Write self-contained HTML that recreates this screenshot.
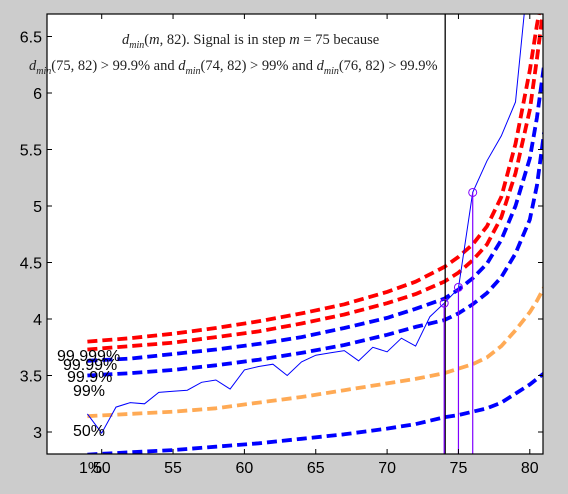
<!DOCTYPE html>
<html><head><meta charset="utf-8"><style>
html,body{margin:0;padding:0;background:#cccccc;}
svg{display:block;}
text{font-family:"Liberation Sans",sans-serif;}
.tt{font-family:"Liberation Serif",serif;font-size:14.5px;fill:#222;}
</style></head><body>
<svg id="chart" width="568" height="494" viewBox="0 0 568 494" xmlns="http://www.w3.org/2000/svg">
<rect x="0" y="0" width="568" height="494" fill="#cccccc"/>
<rect x="47" y="14" width="496" height="440" fill="#ffffff"/>
<defs><clipPath id="clip"><rect x="47" y="14" width="496" height="440"/></clipPath></defs>
<g id="marks" clip-path="url(#clip)"></g>
<g id="axes"></g>
<g>
<text class="tt" x="122" y="44"><tspan font-style="italic">d</tspan><tspan font-style="italic" font-size="10" dy="4">min</tspan><tspan dy="-4">(</tspan><tspan font-style="italic">m</tspan>, 82). Signal is in step <tspan font-style="italic">m</tspan> = 75 because</text>
<text class="tt" x="29" y="70"><tspan font-style="italic">d</tspan><tspan font-style="italic" font-size="10" dy="4">min</tspan><tspan dy="-4">(75, 82) &gt; 99.9% and </tspan><tspan font-style="italic">d</tspan><tspan font-style="italic" font-size="10" dy="4">min</tspan><tspan dy="-4">(74, 82) &gt; 99% and </tspan><tspan font-style="italic">d</tspan><tspan font-style="italic" font-size="10" dy="4">min</tspan><tspan dy="-4">(76, 82) &gt; 99.9%</tspan></text>
</g>
<g font-size="16" fill="#000">
<text x="57" y="361">99.999%</text>
<text x="63" y="370">99.99%</text>
<text x="67" y="382">99.9%</text>
<text x="73" y="396">99%</text>
<text x="73" y="436">50%</text>
<text x="79" y="473">1%</text>
</g>
</svg>
<script>
const mPts=[49,52,55,58,61,64,67,70,72,74,75,76,77,78,79,80,80.5,81];
const red1=[3.80,3.83,3.87,3.92,3.98,4.05,4.13,4.24,4.33,4.46,4.55,4.66,4.82,5.08,5.55,6.2,6.6,6.95];
const red2=[3.73,3.76,3.79,3.84,3.89,3.96,4.04,4.14,4.22,4.33,4.41,4.52,4.66,4.90,5.29,5.85,6.3,6.8];
const blue1=[3.63,3.65,3.69,3.73,3.78,3.84,3.92,4.01,4.09,4.18,4.26,4.36,4.49,4.70,5.00,5.42,5.78,6.25];
const blue2=[3.50,3.52,3.55,3.59,3.64,3.70,3.77,3.86,3.93,3.99,4.05,4.13,4.23,4.37,4.58,4.88,5.18,5.65];
const orange=[3.14,3.16,3.18,3.21,3.26,3.31,3.37,3.43,3.47,3.52,3.56,3.60,3.66,3.76,3.90,4.06,4.16,4.28];
const blue3=[2.80,2.82,2.84,2.87,2.90,2.94,2.98,3.03,3.07,3.13,3.15,3.18,3.21,3.26,3.34,3.42,3.47,3.52];
const sigM=[49,50,51,52,53,54,55,56,57,58,59,60,61,62,63,64,65,66,67,68,69,70,71,72,73,74,75,76,77,78,79,80];
const sigV=[3.16,2.99,3.22,3.26,3.25,3.35,3.36,3.37,3.44,3.46,3.38,3.55,3.58,3.60,3.50,3.62,3.68,3.70,3.72,3.63,3.75,3.71,3.83,3.76,4.02,4.14,4.27,5.12,5.40,5.62,5.92,7.2];
const circM=[74,75,76];
const circV=[4.14,4.28,5.12];
const xTicks=[50,55,60,65,70,75,80];
const yTicks=[3,3.5,4,4.5,5,5.5,6,6.5];

const X=v=>101.7+(v-50)*14.27;
const Y=v=>432-(v-3)*113;
const NS='http://www.w3.org/2000/svg';
const marks=document.getElementById('marks');
const axes=document.getElementById('axes');
function mk(tag,attrs,parent){const e=document.createElementNS(NS,tag);for(const k in attrs)e.setAttribute(k,attrs[k]);parent.appendChild(e);return e;}
function pathOf(ms,vs){return ms.map((m,i)=>(i?'L':'M')+X(m).toFixed(1)+','+Y(vs[i]).toFixed(1)).join(' ');}

function dashed(vs,color,name){
  const p=mk('path',{d:pathOf(mPts,vs),fill:'none',stroke:color,'stroke-width':3.8,'stroke-dasharray':'10,5','stroke-linejoin':'round'},marks);
  
  
}
dashed(blue3,'#0000ff','curve-1pct');
dashed(orange,'#ffaa55','curve-50pct');
dashed(blue2,'#0000ff','curve-99pct');
dashed(blue1,'#0000ff','curve-99-9pct');
dashed(red2,'#ff0000','curve-99-99pct');
dashed(red1,'#ff0000','curve-99-999pct');

const sig=mk('path',{d:pathOf(sigM,sigV),fill:'none',stroke:'#0000ff','stroke-width':1},marks);



const vl=mk('line',{x1:X(74)+1,x2:X(74)+1,y1:14,y2:454,stroke:'#000','stroke-width':1.3},marks);



circM.forEach((m,i)=>{
  const l=mk('line',{x1:X(m),x2:X(m),y1:Y(circV[i]),y2:454,stroke:'#8000ff','stroke-width':1.2},marks);
  
  
  const c=mk('circle',{cx:X(m),cy:Y(circV[i]),r:4,fill:'none',stroke:'#8000ff','stroke-width':1},marks);
  
  
});

const fr=mk('rect',{x:47,y:14,width:496,height:440,fill:'none',stroke:'#000','stroke-width':1.2},axes);


xTicks.forEach(t=>{
  const x=X(t);
  const a=mk('line',{x1:x,x2:x,y1:454,y2:449,stroke:'#000'},axes);
  
  
  const b=mk('line',{x1:x,x2:x,y1:14,y2:19,stroke:'#000'},axes);
  
  
  const tx=mk('text',{x:x,y:473,'text-anchor':'middle','font-size':16},axes);
  tx.textContent=t;
  
  
});
yTicks.forEach(t=>{
  const y=Y(t);
  const a=mk('line',{x1:47,x2:52,y1:y,y2:y,stroke:'#000'},axes);
  
  
  const b=mk('line',{x1:538,x2:543,y1:y,y2:y,stroke:'#000'},axes);
  
  
  const tx=mk('text',{x:42,y:y+6,'text-anchor':'end','font-size':16},axes);
  tx.textContent=t;
  
  
});
</script>
</body></html>
